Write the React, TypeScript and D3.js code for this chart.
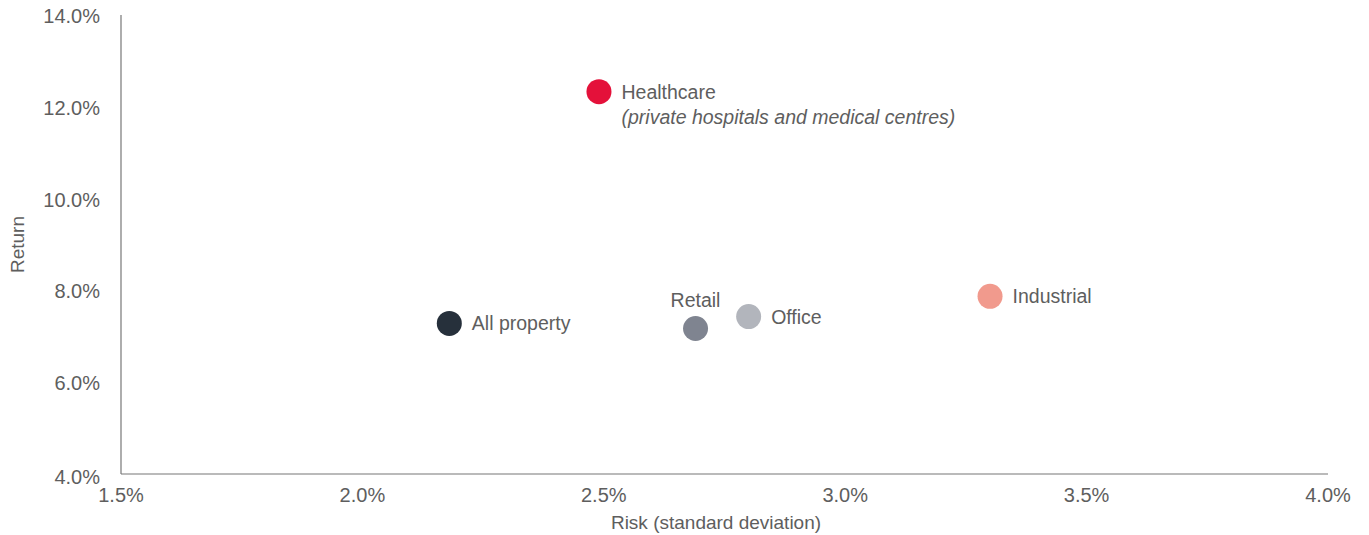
import React from "react";
import * as d3 from "d3";

const sectors = ["All property", "Healthcare", "Retail", "Office", "Industrial"];
const risk = [2.18, 2.49, 2.69, 2.80, 3.30];
const ret = [7.28, 12.33, 7.17, 7.43, 7.87];
const colors = ["#26303b", "#e4113a", "#7f8490", "#b2b5bc", "#f19a8d"];
const subLabels = ["", "(private hospitals and medical centres)", "", "", ""];
const labelPos = ["right", "right", "top", "right", "right"];
const xTicks = [1.5, 2.0, 2.5, 3.0, 3.5, 4.0];
const yTicks = [4, 6, 8, 10, 12, 14];

const W = 1369, H = 535;
const M = { left: 121, right: 41, top: 15, bottom: 61 };
const FONT = "'Liberation Sans', Arial, sans-serif";
const TXT = "#5e5e5e";

export default function App() {
  const x = d3.scaleLinear().domain([1.5, 4.0]).range([M.left, W - M.right]);
  const y = d3.scaleLinear().domain([4, 14]).range([H - M.bottom, M.top]);
  return (
    <svg width={W} height={H} style={{ position: "absolute", left: 0, top: 0, fontFamily: FONT }}>
      <rect width={W} height={H} fill="#fff" />
      <line x1={x(1.5)} x2={x(1.5)} y1={y(14)} y2={y(4)} stroke="#777" strokeWidth={1.2} />
      <line x1={x(1.5)} x2={x(4)} y1={y(4)} y2={y(4)} stroke="#777" strokeWidth={1.2} />
      {yTicks.map((t) => (
        <text key={"y" + t} x={x(1.5) - 21} y={y(t)} dy={t === 4 ? 10 : 8} textAnchor="end" fontSize={20} fill={TXT}>
          {t.toFixed(1) + "%"}
        </text>
      ))}
      {xTicks.map((t) => (
        <text key={"x" + t} x={x(t)} y={y(4) + 28} textAnchor="middle" fontSize={20} fill={TXT}>
          {t.toFixed(1) + "%"}
        </text>
      ))}
      <text x={716} y={H - 6} textAnchor="middle" fontSize={19} fill={TXT}>
        Risk (standard deviation)
      </text>
      <text transform={`translate(24,${(y(4) + y(14)) / 2}) rotate(-90)`} textAnchor="middle" fontSize={19} fill={TXT}>
        Return
      </text>
      {sectors.map((s, i) => {
        const cx = x(risk[i]);
        const cy = y(ret[i]);
        return (
          <g key={s}>
            <circle cx={cx} cy={cy} r={12.5} fill={colors[i]} />
            {labelPos[i] === "top" ? (
              <text x={cx} y={cy - 21} textAnchor="middle" fontSize={19.5} fill={TXT}>{s}</text>
            ) : (
              <text x={cx + 22.5} y={cy + 7} fontSize={19.5} fill={TXT}>{s}</text>
            )}
            {subLabels[i] && (
              <text x={cx + 22.5} y={cy + 32} fontSize={19.5} fontStyle="italic" fill={TXT}>{subLabels[i]}</text>
            )}
          </g>
        );
      })}
    </svg>
  );
}
